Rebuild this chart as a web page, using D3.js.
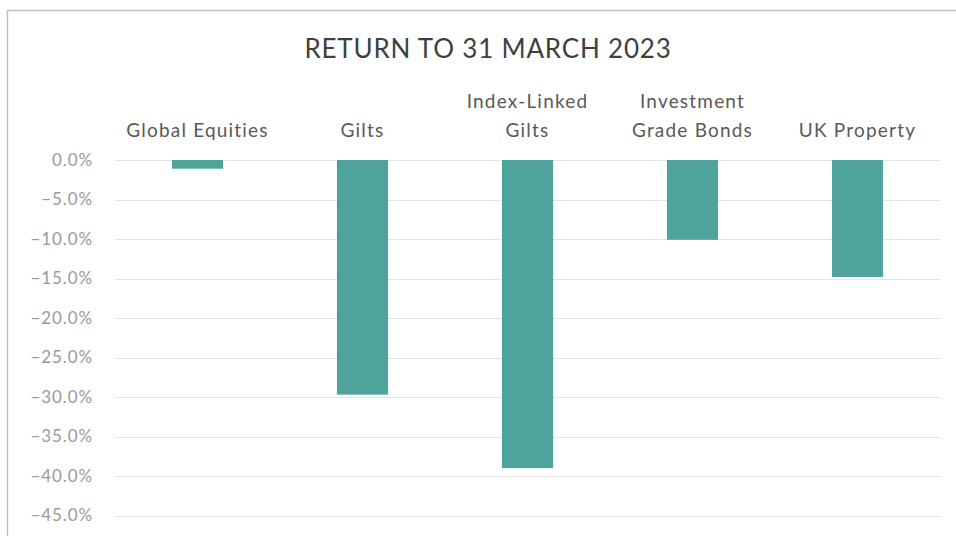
<!DOCTYPE html>
<html><head><meta charset="utf-8">
<script src="https://cdn.jsdelivr.net/npm/d3@7"></script>
<style>body{margin:0;background:#fff;} svg{display:block;}</style>
</head><body>
<svg id="c" width="956" height="536"></svg>
<script>
const categories = [["Global Equities"], ["Gilts"], ["Index-Linked", "Gilts"], ["Investment", "Grade Bonds"], ["UK Property"]];
const returns = [-1.1, -29.7, -39.0, -10.1, -14.8];
const yTicks = [0, -5, -10, -15, -20, -25, -30, -35, -40, -45];
const title = "RETURN TO 31 MARCH 2023";

const svg = d3.select("#c");
const font = "Lato, 'Open Sans', sans-serif";

// frame
svg.append("path").attr("d", "M7.5,536 V10.5 H956").attr("fill", "none").attr("stroke", "#bfbfbf").attr("stroke-width", 1.5);

const x = d3.scaleBand().domain(categories.map((d, i) => i)).range([115, 940]).paddingInner(0.69).paddingOuter(0.345);
const y = d3.scaleLinear().domain([0, -45]).range([160, 515.5]);

// gridlines
svg.append("g").selectAll("line").data(yTicks).join("line")
  .attr("x1", 115).attr("x2", 940)
  .attr("y1", d => Math.round(y(d)) + 0.5).attr("y2", d => Math.round(y(d)) + 0.5)
  .attr("stroke", "#e3e3e3").attr("stroke-width", 1);

// y axis labels
const yAxis = d3.axisLeft(y).tickValues(yTicks).tickSize(0).tickPadding(0)
  .tickFormat(d => d3.format(".1f")(d) + "%");
const gy = svg.append("g").attr("transform", "translate(93,0)").call(yAxis);
gy.select(".domain").remove();
gy.selectAll("text").attr("font-family", font).attr("font-size", 17)
  .attr("letter-spacing", 0.9).attr("fill", "#9a9a9a");

// bars
svg.append("g").selectAll("rect").data(returns).join("rect")
  .attr("x", (d, i) => x(i)).attr("width", x.bandwidth())
  .attr("y", y(0)).attr("height", d => y(d) - y(0))
  .attr("fill", "#4ea39c");

// category labels
const lab = svg.append("g").selectAll("text").data(categories).join("text")
  .attr("x", (d, i) => x(i) + x.bandwidth() / 2)
  .attr("text-anchor", "middle")
  .attr("font-family", font).attr("font-size", 19).attr("letter-spacing", 1.2).attr("fill", "#595959");
lab.each(function(d) {
  const t = d3.select(this);
  d.forEach((line, j) => {
    t.append("tspan").attr("x", t.attr("x"))
      .attr("y", 137 - (d.length - 1 - j) * 29).text(line);
  });
});

// title
svg.append("text").attr("x", 488).attr("y", 58).attr("text-anchor", "middle")
  .attr("font-family", font).attr("font-size", 26).attr("letter-spacing", 0.8)
  .attr("fill", "#3f3f3f").text(title);
</script>
</body></html>
